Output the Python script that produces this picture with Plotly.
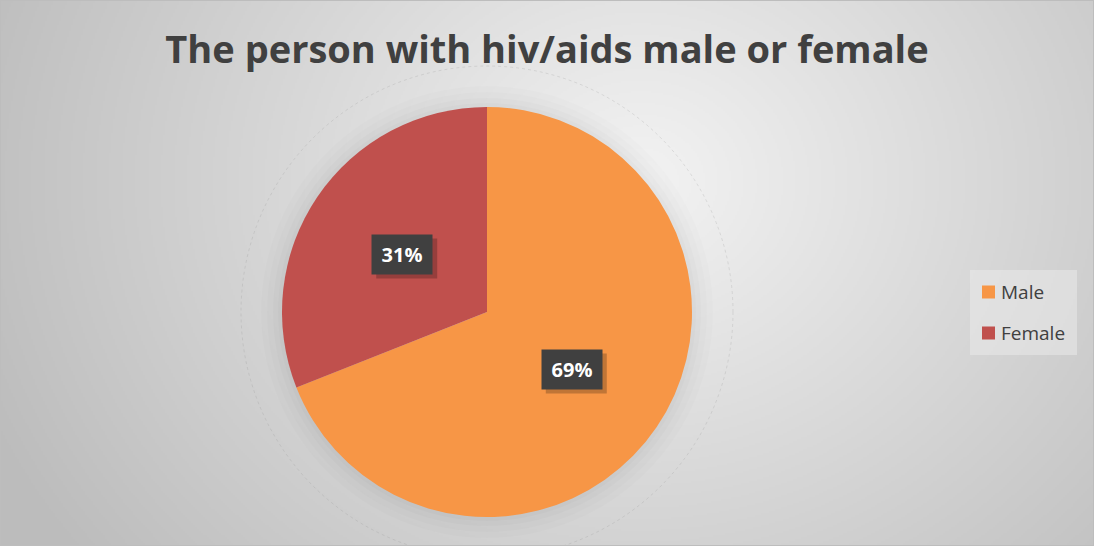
import base64
import math
import struct
import zlib

import numpy as np
import plotly.graph_objects as go

# ---- data ----
labels = ["Male", "Female"]
values = [69, 31]
colors = ["#F79646", "#C0504D"]
title_text = "The person with hiv/aids male or female"

W, H = 1094, 546
PIE_CX, PIE_CY, PIE_R = 487, 312, 205  # pixel geometry of the pie


def gradient_png(w, h):
    """Soft radial grey background as a PNG data URI."""
    ys, xs = np.mgrid[0:h, 0:w]
    sx, sy = W / w, H / h
    d = np.hypot(xs * sx - 640, (ys * sy - 180) * 1.15)
    g = np.clip(243 - 50 * (d / 650), 188, 245).astype(np.uint8)
    rgb = np.dstack([g, g, g])
    raw = b"".join(b"\x00" + rgb[r].tobytes() for r in range(h))

    def chunk(tag, data):
        c = tag + data
        return struct.pack(">I", len(data)) + c + struct.pack(">I", zlib.crc32(c) & 0xFFFFFFFF)

    png = (b"\x89PNG\r\n\x1a\n"
           + chunk(b"IHDR", struct.pack(">IIBBBBB", w, h, 8, 2, 0, 0, 0))
           + chunk(b"IDAT", zlib.compress(raw, 9))
           + chunk(b"IEND", b""))
    return "data:image/png;base64," + base64.b64encode(png).decode()


cx = PIE_CX / W
cy = 1 - PIE_CY / H


def px_circle(r, **kw):
    return dict(type="circle", xref="paper", yref="paper", xsizemode="pixel", ysizemode="pixel",
                xanchor=cx, yanchor=cy, x0=-r, x1=r, y0=-r, y1=r, layer="below", **kw)


fig = go.Figure(go.Pie(
    labels=labels,
    values=values,
    marker=dict(colors=colors, line=dict(width=0)),
    sort=False,
    direction="clockwise",
    rotation=0,
    textinfo="none",
    hoverinfo="label+percent",
    showlegend=False,
    domain=dict(x=[(PIE_CX - PIE_R) / W, (PIE_CX + PIE_R) / W],
                y=[1 - (PIE_CY + PIE_R) / H, 1 - (PIE_CY - PIE_R) / H]),
))

shapes = []
# soft halo and faint outer ring around the pie
for r, a in [(226, 0.010), (220, 0.012), (214, 0.014), (209, 0.016)]:
    shapes.append(px_circle(r, fillcolor=f"rgba(0,0,0,{a})", line=dict(width=0)))
shapes.append(px_circle(246, line=dict(color="rgba(140,140,140,0.22)", width=1, dash="dot")))

# percentage labels in dark boxes at half radius along each slice's mid-angle
total = sum(values)
annotations = []
start = 0.0
for v in values:
    mid = (start + v / 2) / total * 2 * math.pi
    start += v
    ax = cx + 0.5 * PIE_R * math.sin(mid) / W
    ay = cy + 0.5 * PIE_R * math.cos(mid) / H
    pct = f"{round(v / total * 100)}%"
    # drop shadow under the label box
    shapes.append(dict(type="rect", xref="paper", yref="paper", xsizemode="pixel", ysizemode="pixel",
                       xanchor=ax, yanchor=ay, x0=-26, x1=35, y0=-24, y1=16,
                       fillcolor="rgba(0,0,0,0.22)", line=dict(width=0), layer="above"))
    annotations.append(dict(
        x=ax, y=ay, xref="paper", yref="paper", showarrow=False,
        xanchor="center", yanchor="middle",
        text=f"<b>{pct}</b>", font=dict(color="white", size=20, family="Open Sans"),
        bgcolor="#404040", width=60, height=39, borderpad=0,
    ))

# legend drawn as swatches and labels
LEG_X0, LEG_X1, LEG_Y0, LEG_Y1 = 970, 1077, 270, 355
shapes.append(dict(type="rect", xref="paper", yref="paper",
                   x0=LEG_X0 / W, x1=LEG_X1 / W, y0=1 - LEG_Y1 / H, y1=1 - LEG_Y0 / H,
                   fillcolor="rgba(236,236,236,0.5)", line=dict(width=0), layer="below"))
for i, (lab, col) in enumerate(zip(labels, colors)):
    yc = 292 + i * 41
    shapes.append(dict(type="rect", xref="paper", yref="paper",
                       x0=982 / W, x1=995 / W, y0=1 - (yc + 6.5) / H, y1=1 - (yc - 6.5) / H,
                       fillcolor=col, line=dict(width=0), layer="above"))
    annotations.append(dict(x=999 / W, y=1 - yc / H, xref="paper", yref="paper", showarrow=False,
                            xanchor="left", yanchor="middle", text=lab,
                            font=dict(family="Open Sans", size=19, color="#404040")))

# chart border
shapes.append(dict(type="rect", xref="paper", yref="paper", x0=0, x1=1, y0=0, y1=1,
                   line=dict(color="#bdbdbd", width=2), layer="above"))

fig.update_layout(
    width=W, height=H,
    margin=dict(l=0, r=0, t=0, b=0),
    paper_bgcolor="#e0e0e0",
    plot_bgcolor="rgba(0,0,0,0)",
    showlegend=False,
    title=dict(text=f"<b>{title_text}</b>", x=0.5, xanchor="center", y=1 - 50 / H, yanchor="middle",
               font=dict(family="Open Sans", size=38, color="#404040")),
    images=[dict(source=gradient_png(547, 273), xref="paper", yref="paper",
                 x=0, y=1, sizex=1, sizey=1, xanchor="left", yanchor="top",
                 sizing="stretch", layer="below")],
    annotations=annotations,
    shapes=shapes,
)

fig.write_html("out.html")
